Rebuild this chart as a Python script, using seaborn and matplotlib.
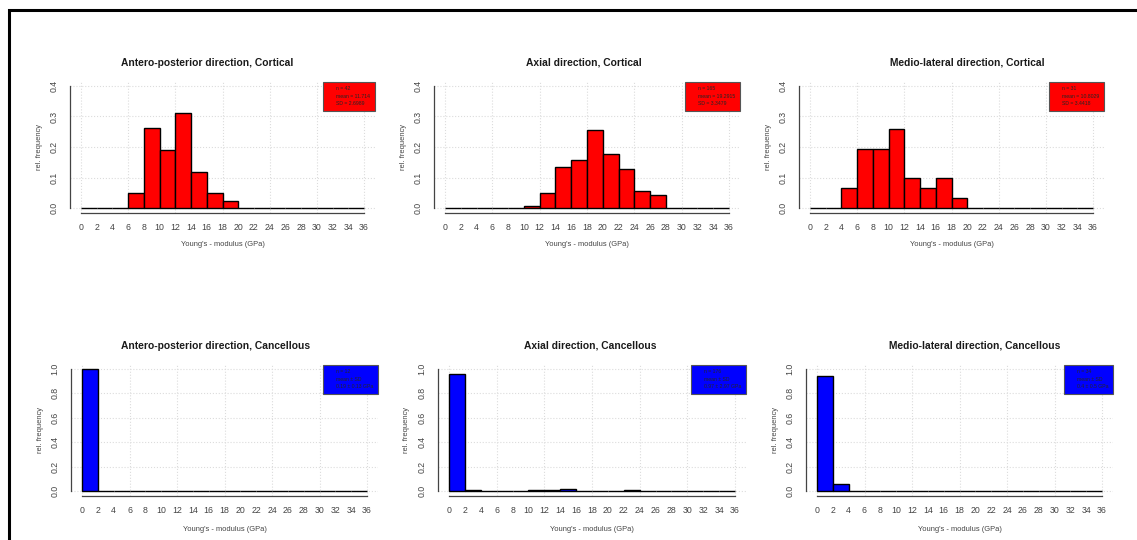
import matplotlib
matplotlib.use("Agg")
import matplotlib.pyplot as plt
import seaborn as sns
from matplotlib.lines import Line2D
from matplotlib.patches import Rectangle

# ---- data: relative frequencies per 2 GPa bin (0-2, 2-4, ..., 34-36) ----
bin_edges = list(range(0, 38, 2))
x_ticks = list(range(0, 37, 2))

ap_cortical = [0, 0, 0, 0.048, 0.262, 0.190, 0.310, 0.119, 0.048, 0.024,
               0, 0, 0, 0, 0, 0, 0, 0]
axial_cortical = [0, 0, 0, 0, 0, 0.006, 0.048, 0.133, 0.158, 0.255,
                  0.176, 0.127, 0.055, 0.042, 0, 0, 0, 0]
ml_cortical = [0, 0, 0.065, 0.194, 0.194, 0.258, 0.097, 0.065, 0.097, 0.032,
               0, 0, 0, 0, 0, 0, 0, 0]
ap_cancellous = [1.0, 0, 0, 0, 0, 0, 0, 0, 0, 0, 0, 0, 0, 0, 0, 0, 0, 0]
axial_cancellous = [0.955, 0.006, 0, 0, 0, 0.006, 0.011, 0.017, 0, 0,
                    0, 0.006, 0, 0, 0, 0, 0, 0]
ml_cancellous = [0.941, 0.059, 0, 0, 0, 0, 0, 0, 0, 0, 0, 0, 0, 0, 0, 0, 0, 0]

titles = [
    "Antero-posterior direction, Cortical",
    "Axial direction, Cortical",
    "Medio-lateral direction, Cortical",
    "Antero-posterior direction, Cancellous",
    "Axial direction, Cancellous",
    "Medio-lateral direction, Cancellous",
]
legend_texts = [
    ["n = 42", "mean = 11.714", "SD = 2.6989"],
    ["n = 165", "mean = 19.2915", "SD = 3.3479"],
    ["n = 31", "mean = 10.8029", "SD = 3.4418"],
    ["n = 12", "mean \u00b1 SD", "0.19 \u00b1 0.13 GPa"],
    ["n = 176", "mean \u00b1 SD", "0.97 \u00b1 2.97 GPa"],
    ["n = 34", "mean \u00b1 SD", "0.4 \u00b1 0.5 GPa"],
]
y_max = [0.4, 0.4, 0.4, 1.0, 1.0, 1.0]
y_step = [0.1, 0.1, 0.1, 0.2, 0.2, 0.2]
fills = ["#ff0000"] * 3 + ["#0000ff"] * 3
series = [ap_cortical, axial_cortical, ml_cortical,
          ap_cancellous, axial_cancellous, ml_cancellous]
x_label = "Young's - modulus (GPa)"
y_label = "rel. frequency"

# ---- layout (pixels on a 1137 x 540 canvas) ----
W, H = 1137, 540
# left, top, width, height of each plotting region
regions = [
    (69.7, 81.1, 305.6, 131.8),
    (433.6, 81.1, 306.7, 131.8),
    (798.7, 81.1, 305.6, 131.8),
    (70.6, 364.1, 307.8, 131.8),
    (437.6, 364.1, 308.9, 131.8),
    (805.6, 364.1, 307.8, 131.8),
]
title_x = [0.449, 0.490, 0.551, 0.472, 0.493, 0.550]

sns.set_style("white")
plt.rcParams["font.family"] = ["Liberation Sans", "DejaVu Sans"]

fig = plt.figure(figsize=(W / 100, H / 100), dpi=100)
fig.patch.set_facecolor("white")

centers = [(a + b) / 2 for a, b in zip(bin_edges[:-1], bin_edges[1:])]

for i in range(6):
    l, t, w, h = regions[i]
    ax = fig.add_axes([l / W, 1 - (t + h) / H, w / W, h / H])
    ymax = y_max[i]

    # light dotted reference grid
    for gx in range(0, 37, 6):
        ax.axvline(gx, color="#dcdcdc", lw=0.8, ls=":", zorder=0)
    n_y = int(round(ymax / y_step[i]))
    y_ticks = [round(k * y_step[i], 1) for k in range(n_y + 1)]
    for gy in y_ticks:
        ax.axhline(gy, color="#dcdcdc", lw=0.8, ls=":", zorder=0)

    sns.histplot(x=centers, weights=series[i], bins=bin_edges, stat="count",
                 color=fills[i], edgecolor="black", linewidth=1.0, alpha=1,
                 ax=ax, zorder=2)

    ax.set_xlim(-1.44, 37.44)
    ax.set_ylim(-0.04 * ymax, 1.04 * ymax)
    ax.set_xticks(x_ticks)
    ax.set_xticklabels([str(v) for v in x_ticks])
    ax.set_yticks(y_ticks)
    ax.set_yticklabels([f"{v:.1f}" for v in y_ticks])

    for side in ("top", "right"):
        ax.spines[side].set_visible(False)
    ax.spines["bottom"].set_bounds(0, 36)
    ax.spines["left"].set_bounds(0, ymax)
    for side in ("bottom", "left"):
        ax.spines[side].set_color("#444444")
        ax.spines[side].set_linewidth(0.9)

    ax.tick_params(axis="both", direction="out", length=4, width=0.9,
                   color="#444444", labelsize=6.3, labelcolor="#444444")
    ax.tick_params(axis="x", pad=3.5)
    ax.tick_params(axis="y", pad=4, labelrotation=90)
    for lab in ax.get_yticklabels():
        lab.set_va("center")

    ax.set_xlabel(x_label, fontsize=5.4, color="#444444")
    ax.xaxis.set_label_coords(0.5, -0.215 if i < 3 else -0.228)
    ax.set_ylabel(y_label, fontsize=5.4, color="#444444")
    ax.yaxis.set_label_coords(-0.088, 0.5)

    ax.text(title_x[i], 1.14, titles[i], transform=ax.transAxes,
            ha="center", va="center", fontsize=7.4, fontweight="bold",
            color="#1a1a1a")

    blank = [Line2D([], [], linestyle="none") for _ in legend_texts[i]]
    leg = ax.legend(blank, legend_texts[i], loc="upper right", fontsize=3.7,
                    handlelength=1.4, handletextpad=0.2, borderpad=0.9,
                    labelspacing=0.45, borderaxespad=0.15, fancybox=False,
                    framealpha=1, facecolor=fills[i], edgecolor="#555555")
    leg.get_frame().set_linewidth(0.8)

# outer frame
fig.patches.append(Rectangle((8.5 / W, -0.05), 1.2, 1 - 10 / H + 0.05,
                             transform=fig.transFigure, fill=False,
                             edgecolor="black", linewidth=2.2))

fig.savefig("out.png", dpi=100)
